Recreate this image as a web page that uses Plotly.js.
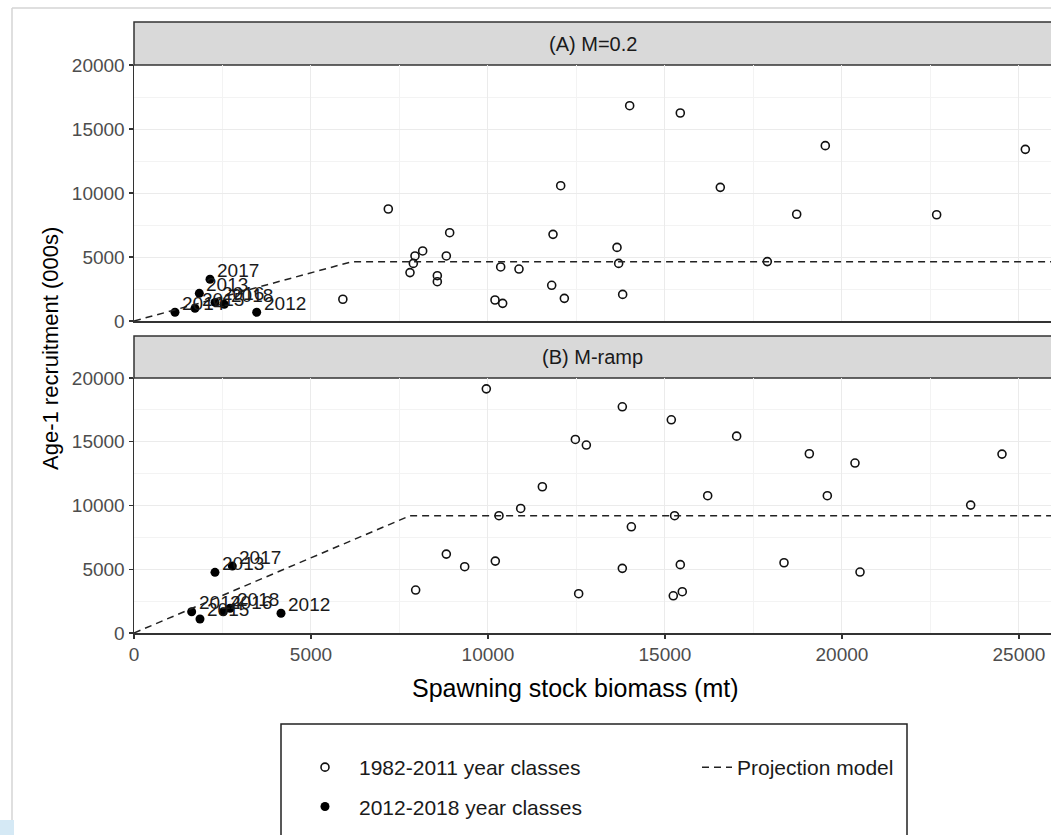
<!DOCTYPE html>
<html>
<head>
<meta charset="utf-8">
<script src="https://cdn.plot.ly/plotly-3.0.1.min.js"></script>
<style>html,body{margin:0;padding:0;background:#fff;}#chart{width:1051px;height:835px;}</style>
</head>
<body>
<div id="chart"></div>
<script>
// ---- Data ----
// Panel A: M=0.2
const openA_x = [7184, 8918, 8155, 7938, 7891, 7797, 8823, 8569, 8569, 10359, 10876, 10198, 10415, 12054, 11837, 11800, 12157, 14003, 13645, 13692, 13805, 15433, 16563, 17891, 18721, 19529, 22675, 25180, 5900];
const openA_y = [8750, 6900, 5470, 5080, 4500, 3780, 5080, 3540, 3070, 4220, 4060, 1640, 1380, 10570, 6770, 2790, 1770, 16820, 5750, 4500, 2080, 16250, 10440, 4640, 8340, 13700, 8300, 13410, 1700];
const recentYears = ['2012', '2013', '2014', '2015', '2016', '2017', '2018'];
const recentA_x = [3466, 1845, 1158, 1723, 2290, 2147, 2550];
const recentA_y = [680, 2160, 680, 990, 1450, 3260, 1300];
const projA_x = [0, 6150, 26000];
const projA_y = [0, 4630, 4630];

// Panel B: M-ramp
const openB_x = [9953, 13795, 15179, 17025, 12468, 12779, 11536, 16207, 10924, 10311, 15272, 14050, 8823, 9342, 10207, 7957, 13795, 15433, 12562, 15235, 15489, 18363, 19078, 19586, 20368, 20510, 23636, 24521];
const openB_y = [19150, 17740, 16720, 15440, 15180, 14740, 11470, 10770, 9770, 9200, 9200, 8330, 6190, 5200, 5640, 3370, 5070, 5360, 3080, 2920, 3240, 5510, 14060, 10770, 13330, 4780, 10030, 14030];
const recentB_x = [4153, 2288, 1629, 1864, 2523, 2778, 2712];
const recentB_y = [1545, 4760, 1670, 1100, 1670, 5250, 1940];
const projB_x = [0, 7800, 26000];
const projB_y = [0, 9200, 9200];

const panelTitles = ['(A) M=0.2', '(B) M-ramp'];
const seriesNames = ['1982-2011 year classes', '2012-2018 year classes', 'Projection model'];
const yTickVals = [0, 5000, 10000, 15000, 20000];
const yTickText = ['0', '5000', '10000', '15000', '20000'];
const xTickVals = [0, 5000, 10000, 15000, 20000, 25000];
const xTickText = ['0', '5000', '10000', '15000', '20000', '25000'];

// ---- Geometry helpers (pixel -> paper) ----
const W = 1051, H = 835, L = 134;
const py = p => 1 - p / H;
const px = p => (p - L) / (W - L);

const FONT = 'Liberation Sans, Arial, sans-serif';
const openMarker = {symbol: 'circle-open', size: 8, color: '#111', line: {width: 1.6, color: '#111'}};
const fillMarker = {symbol: 'circle', size: 9, color: '#000'};
const dashLine = {color: '#222', width: 1.5, dash: '7px,5px'};

const traces = [
  {x: openA_x, y: openA_y, xaxis: 'x', yaxis: 'y', type: 'scatter', mode: 'markers', marker: openMarker,
   name: seriesNames[0], legendgroup: 'g1', showlegend: true, legend: 'legend'},
  {x: recentA_x, y: recentA_y, xaxis: 'x', yaxis: 'y', type: 'scatter', mode: 'markers', marker: fillMarker,
   name: seriesNames[1], legendgroup: 'g2', showlegend: true, legend: 'legend', text: recentYears},
  {x: projA_x, y: projA_y, xaxis: 'x', yaxis: 'y', type: 'scatter', mode: 'lines', line: dashLine,
   name: seriesNames[2], legendgroup: 'g3', showlegend: true, legend: 'legend2'},
  {x: openB_x, y: openB_y, xaxis: 'x2', yaxis: 'y2', type: 'scatter', mode: 'markers', marker: openMarker,
   name: seriesNames[0], legendgroup: 'g1', showlegend: false},
  {x: recentB_x, y: recentB_y, xaxis: 'x2', yaxis: 'y2', type: 'scatter', mode: 'markers', marker: fillMarker,
   name: seriesNames[1], legendgroup: 'g2', showlegend: false, text: recentYears},
  {x: projB_x, y: projB_y, xaxis: 'x2', yaxis: 'y2', type: 'scatter', mode: 'lines', line: dashLine,
   name: seriesNames[2], legendgroup: 'g3', showlegend: false}
];

// year labels next to the recent points
const annotations = [];
recentYears.forEach((yr, i) => {
  annotations.push({x: recentA_x[i], y: recentA_y[i], xref: 'x', yref: 'y', text: yr, showarrow: false,
    xanchor: 'left', yanchor: 'middle', xshift: 5, yshift: 9, font: {family: FONT, size: 19, color: '#1a1a1a'}});
  annotations.push({x: recentB_x[i], y: recentB_y[i], xref: 'x2', yref: 'y2', text: yr, showarrow: false,
    xanchor: 'left', yanchor: 'middle', xshift: 5, yshift: 9, font: {family: FONT, size: 19, color: '#1a1a1a'}});
});
// strip titles
annotations.push({xref: 'paper', yref: 'paper', x: 0.5, y: py(44), text: panelTitles[0], showarrow: false,
  xanchor: 'center', yanchor: 'middle', font: {family: FONT, size: 20, color: '#1a1a1a'}});
annotations.push({xref: 'paper', yref: 'paper', x: 0.5, y: py(357), text: panelTitles[1], showarrow: false,
  xanchor: 'center', yanchor: 'middle', font: {family: FONT, size: 20, color: '#1a1a1a'}});
// shared y title
annotations.push({xref: 'paper', yref: 'paper', x: px(51), y: py(349), text: 'Age-1 recruitment (000s)', showarrow: false,
  textangle: -90, xanchor: 'center', yanchor: 'middle', font: {family: FONT, size: 22, color: '#000'}});
// x title
annotations.push({xref: 'paper', yref: 'paper', x: px(575), y: py(688), text: 'Spawning stock biomass (mt)', showarrow: false,
  xanchor: 'center', yanchor: 'middle', font: {family: FONT, size: 25, color: '#000'}});

const shapes = [
  // screenshot frame
  {type: 'line', xref: 'paper', yref: 'paper', x0: px(12), x1: px(W), y0: py(8), y1: py(8), line: {color: '#d4d4d4', width: 1.5}},
  {type: 'line', xref: 'paper', yref: 'paper', x0: px(12), x1: px(12), y0: py(8), y1: py(H), line: {color: '#d4d4d4', width: 1.5}},
  {type: 'rect', xref: 'paper', yref: 'paper', x0: px(0), x1: px(14), y0: py(H), y1: py(820), fillcolor: '#d5e9f5', line: {width: 0}},
  // strips
  {type: 'rect', xref: 'paper', yref: 'paper', x0: 0, x1: 1.01, y0: py(65), y1: py(22), fillcolor: '#d9d9d9', line: {color: '#333', width: 1.5}, layer: 'below'},
  {type: 'rect', xref: 'paper', yref: 'paper', x0: 0, x1: 1.01, y0: py(378), y1: py(336), fillcolor: '#d9d9d9', line: {color: '#333', width: 1.5}, layer: 'below'},
  // legend box
  {type: 'rect', xref: 'paper', yref: 'paper', x0: px(281), x1: px(907), y0: py(845), y1: py(724), fillcolor: 'rgba(0,0,0,0)', line: {color: '#222', width: 1.5}}
];

const axisCommon = {
  range: [0, (W - L) * 28.25], showgrid: true, gridcolor: '#ebebeb', gridwidth: 1,
  tick0: 0, dtick: 5000, zeroline: false, showline: true, linecolor: '#333', linewidth: 1.5,
  minor: {dtick: 2500, tick0: 0, showgrid: true, gridcolor: '#f3f3f3', gridwidth: 1}
};
const yCommon = {
  range: [0, 20000], tickvals: yTickVals, ticktext: yTickText, showgrid: true, gridcolor: '#ebebeb', gridwidth: 1,
  zeroline: false, showline: true, linecolor: '#333', linewidth: 1.5,
  ticks: 'outside', ticklen: 4, tickcolor: '#333', tickwidth: 1.2,
  tickfont: {family: FONT, size: 19, color: '#4d4d4d'},
  minor: {tickvals: [2500, 7500, 12500, 17500], showgrid: true, gridcolor: '#f3f3f3', gridwidth: 1}
};

const layout = {
  width: W, height: H,
  margin: {l: L, r: 0, t: 0, b: 0},
  paper_bgcolor: '#fff', plot_bgcolor: '#fff',
  font: {family: FONT},
  xaxis: Object.assign({}, axisCommon, {domain: [0, 1], anchor: 'y', matches: 'x2', showticklabels: false, ticks: ''}),
  yaxis: Object.assign({}, yCommon, {domain: [py(321), py(65)], anchor: 'x'}),
  xaxis2: Object.assign({}, axisCommon, {domain: [0, 1], anchor: 'y2', tickvals: xTickVals, ticktext: xTickText, ticks: 'outside', ticklen: 4,
    tickcolor: '#333', tickwidth: 1.2, tickfont: {family: FONT, size: 19, color: '#4d4d4d'}}),
  yaxis2: Object.assign({}, yCommon, {domain: [py(633), py(378)], anchor: 'x2'}),
  legend: {x: px(291), y: py(747), xanchor: 'left', yanchor: 'top', orientation: 'v', bgcolor: 'rgba(0,0,0,0)',
    borderwidth: 0, itemwidth: 58, tracegroupgap: 9, font: {family: FONT, size: 21, color: '#1a1a1a'}},
  legend2: {x: px(697), y: py(747), xanchor: 'left', yanchor: 'top', orientation: 'v', bgcolor: 'rgba(0,0,0,0)',
    borderwidth: 0, itemwidth: 30, font: {family: FONT, size: 21, color: '#1a1a1a'}},
  annotations: annotations,
  shapes: shapes
};

Plotly.newPlot('chart', traces, layout, {displayModeBar: false, staticPlot: true});
</script>
</body>
</html>
